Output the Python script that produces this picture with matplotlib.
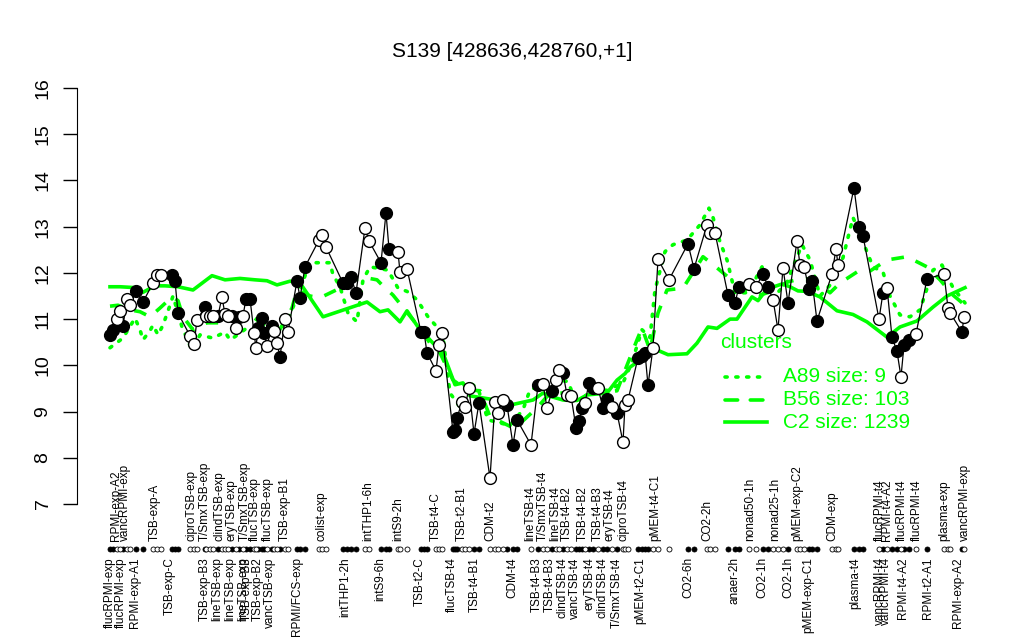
import matplotlib
matplotlib.use("Agg")
import matplotlib.pyplot as plt
import matplotlib.transforms as mtransforms
import numpy as np

plt.rcParams["font.family"] = ["Liberation Sans", "DejaVu Sans"]

# sample positions along the x axis, expression values, filled marker flag
pos = [110, 113, 117, 120, 123, 127, 130, 136, 143, 153, 157, 161, 172, 175, 178,
       190, 194, 197, 205, 206, 210, 213, 218, 222, 225, 228, 232, 236, 239, 243,
       246, 250, 254, 256, 258, 262, 264, 267, 272, 274, 277, 280, 285, 288,
       297, 300, 305, 319, 322, 326, 343, 347, 351, 356, 365, 369, 381, 386, 389,
       398, 400, 407, 421, 424, 427, 436, 439, 442, 453, 455, 457, 462, 465, 469,
       474, 479, 490, 495, 498, 503, 507, 513, 517, 531, 538, 543, 547, 552, 556,
       559, 563, 567, 571, 576, 579, 582, 585, 589, 593, 598, 603, 607, 612, 617,
       623, 625, 628, 638, 642, 645, 648, 653, 658, 669, 688, 694, 707, 710, 715,
       728, 735, 739, 749, 756, 763, 768, 773, 778, 783, 788, 797, 800, 804, 809,
       812, 817, 832, 836, 838, 854, 859, 863, 879, 883, 887, 892, 897, 901, 904,
       909, 916, 927, 944, 948, 950, 962, 964]
vals = [10.66, 10.77, 11.0, 11.18, 10.85, 11.44, 11.3, 11.6, 11.37, 11.78, 11.96, 11.96, 11.96, 11.83, 11.13,
        10.64, 10.46, 10.98, 11.26, 11.07, 11.07, 11.07, 11.07, 11.48, 11.1, 11.07, 11.07, 10.81, 11.05, 11.07,
        11.44, 11.44, 10.7, 10.38, 10.81, 11.02, 10.7, 10.42, 10.85, 10.75, 10.48, 10.18, 11.0, 10.72,
        11.83, 11.46, 12.13, 12.71, 12.82, 12.56, 11.78, 11.78, 11.91, 11.57, 12.97, 12.69, 12.22, 13.3, 12.52,
        12.45, 12.02, 12.09, 10.72, 10.72, 10.27, 9.88, 10.44, 10.7, 8.56, 8.6, 8.87, 9.2, 9.1, 9.51,
        8.52, 9.19, 7.56, 9.2, 8.97, 9.25, 9.14, 8.28, 8.82, 8.28, 9.57, 9.6, 9.08, 9.44, 9.68,
        9.9, 9.83, 9.36, 9.34, 8.65, 8.8, 9.08, 9.19, 9.62, 9.51, 9.51, 9.08, 9.27, 9.1, 8.97,
        8.34, 9.14, 9.25, 10.16, 10.2, 10.27, 9.57, 10.38, 12.3, 11.85, 12.63, 12.09, 13.04, 12.87, 12.87,
        11.52, 11.35, 11.7, 11.76, 11.7, 11.98, 11.7, 11.42, 10.77, 12.11, 11.35, 12.69, 12.17, 12.13, 11.65,
        11.83, 10.96, 11.98, 12.52, 12.17, 13.84, 13.0, 12.8, 11.0, 11.57, 11.68, 10.61, 10.3, 9.75, 10.44,
        10.55, 10.68, 11.87, 11.98, 11.24, 11.14, 10.72, 11.05]
filled = [1, 1, 0, 0, 1, 0, 0, 1, 1, 0, 0, 0, 1, 1, 1,
          0, 0, 0, 1, 0, 0, 0, 1, 0, 0, 0, 1, 0, 1, 0,
          1, 1, 0, 0, 1, 1, 1, 0, 1, 0, 0, 1, 0, 0,
          1, 1, 1, 0, 0, 0, 1, 1, 1, 1, 0, 0, 1, 1, 1,
          0, 0, 0, 1, 1, 1, 0, 0, 0, 1, 1, 1, 0, 0, 0,
          1, 1, 0, 0, 0, 0, 1, 1, 1, 0, 1, 0, 0, 1, 0,
          0, 1, 0, 0, 1, 1, 1, 0, 1, 1, 0, 1, 1, 0, 1,
          0, 0, 0, 1, 1, 1, 1, 0, 0, 0, 1, 1, 0, 0, 0,
          1, 1, 1, 0, 0, 1, 1, 0, 0, 0, 1, 0, 0, 0, 1,
          1, 1, 0, 0, 0, 1, 1, 1, 0, 1, 0, 1, 1, 0, 1,
          1, 0, 1, 0, 0, 0, 1, 0]

# cluster mean profiles
c2_pos = [110, 120, 136, 143, 155, 165, 178, 193, 212, 225, 240, 255, 267, 277, 290, 297,
          302, 323, 367, 380, 388, 400, 407, 418, 433, 443, 455, 463, 470, 490, 510, 533,
          543, 550, 563, 577, 587, 607, 617, 625, 630, 643, 653, 668, 687, 697, 708, 717,
          730, 737, 752, 758, 767, 782, 790, 798, 807, 820, 837, 853, 867, 887, 900, 917,
          933, 947, 965]
c2_vals = [11.7, 11.7, 11.68, 11.58, 11.72, 11.72, 11.7, 11.63, 11.94, 11.85, 11.88, 11.85, 11.83, 11.74, 11.82, 11.8,
           11.72, 11.05, 11.37, 11.16, 11.2, 10.94, 11.18, 10.83, 10.48, 10.27, 9.58, 9.62, 9.34, 9.27, 9.14, 9.25,
           9.4, 9.33, 9.25, 9.24, 9.36, 9.4, 9.68, 9.82, 9.96, 10.16, 10.37, 10.23, 10.25, 10.48, 10.83, 10.8,
           11.0, 11.0, 11.48, 11.4, 11.65, 11.76, 11.7, 11.61, 11.6, 11.48, 11.18, 11.1, 10.94, 10.61, 10.83, 10.96,
           11.26, 11.5, 11.68]

b56_pos = [110, 118, 130, 140, 150, 160, 172, 178, 183, 193, 207, 220, 233, 247, 253, 267,
           280, 292, 297, 310, 320, 340, 353, 367, 377, 382, 393, 405, 418, 430, 440, 453,
           467, 480, 490, 513, 523, 537, 550, 563, 577, 590, 603, 617, 637, 642, 650, 658,
           667, 683, 703, 717, 728, 733, 748, 760, 773, 787, 800, 813, 830, 840, 857, 870,
           887, 907, 927, 940, 953, 965]
b56_vals = [11.28, 11.3, 11.2, 11.16, 11.05, 11.24, 11.48, 11.4, 11.05, 10.77, 10.92, 10.92, 11.0, 11.05, 11.05, 10.81,
            10.78, 11.24, 11.63, 11.5, 11.46, 11.67, 11.85, 11.89, 11.85, 11.74, 11.52, 11.2, 10.85, 10.48, 10.27, 9.68,
            9.47, 9.45, 8.89, 8.65, 8.8, 9.08, 9.4, 9.4, 9.04, 9.51, 9.4, 9.45, 10.55, 10.81, 10.33, 11.13,
            11.63, 11.67, 12.35, 12.11, 11.91, 11.78, 11.59, 11.52, 11.61, 11.8, 11.87, 11.87, 11.57, 11.78, 12.02, 12.04,
            12.28, 12.35, 12.13, 11.85, 11.52, 11.3]

a89_pos = [110, 123, 135, 140, 143, 150, 153, 158, 163, 170, 173, 182, 192, 200, 207, 213,
           225, 230, 237, 247, 260, 270, 280, 290, 297, 310, 330, 333, 340, 348, 357, 363,
           370, 378, 388, 398, 407, 417, 428, 437, 443, 450, 460, 470, 478, 488, 510, 523,
           530, 547, 553, 568, 580, 590, 607, 623, 632, 642, 650, 655, 665, 673, 687, 700,
           709, 713, 720, 727, 735, 748, 762, 773, 787, 802, 810, 820, 832, 843, 853, 863,
           873, 883, 890, 900, 910, 920, 933, 942, 953, 965]
a89_vals = [10.38, 10.59, 11.02, 10.77, 10.55, 10.75, 10.87, 10.66, 10.87, 11.3, 11.5, 10.83, 10.33, 10.66, 10.62, 10.59,
            10.72, 10.55, 10.65, 10.81, 10.7, 10.77, 10.77, 11.09, 11.48, 12.22, 12.22, 11.96, 11.7, 11.13, 10.94, 11.85,
            12.13, 12.1, 12.06, 11.67, 11.6, 11.42, 11.05, 10.83, 10.6, 9.4, 9.1, 9.62, 9.5, 8.82, 8.7, 9.04,
            9.47, 9.62, 9.7, 9.65, 8.97, 9.62, 9.45, 9.62, 10.07, 10.77, 10.6, 11.63, 12.46, 12.61, 12.71, 13.04,
            13.4, 13.2, 12.67, 12.28, 11.57, 11.57, 12.13, 11.46, 11.8, 12.61, 12.28, 11.5, 11.78, 12.33, 13.2, 12.67,
            12.13, 12.02, 11.5, 11.09, 11.05, 11.2, 12.06, 12.17, 11.68, 11.35]

top_labels = ["RPMI-exp-A2", "vancRPMI-exp", "TSB-exp-A", "ciproTSB-exp", "T/SmxTSB-exp",
              "clindTSB-exp", "eryTSB-exp", "T/SmxTSB-exp", "flucTSB-exp", "flucTSB-exp",
              "TSB-exp-B1", "colist-exp", "intTHP1-6h", "intS9-2h", "TSB-t4-C", "TSB-t2-B1",
              "CDM-t2", "lineTSB-t4", "T/SmxTSB-t4", "lineTSB-t4", "TSB-t4-B2", "TSB-t4-B2",
              "TSB-t4-B3", "eryTSB-t4", "ciproTSB-t4", "pMEM-t4-C1", "CO2-2h", "nonad50-1h",
              "nonad25-1h", "pMEM-exp-C2", "CDM-exp", "flucRPMI-t4", "RPMI-t4-A2",
              "flucRPMI-t4", "flucRPMI-t4", "plasma-exp", "vancRPMI-exp"]
top_pos = [116, 125, 155, 192, 205, 219, 231, 245, 255, 268, 285, 321, 368, 398, 436, 462,
           490, 530, 543, 555, 567, 583, 598, 610, 623, 655, 707, 750, 775, 797, 832, 880,
           887, 902, 917, 944, 965]

bottom_labels = ["flucRPMI-exp", "flucRPMI-exp", "RPMI-exp-A1", "TSB-exp-C", "TSB-exp-B3",
                 "lineTSB-exp", "lineTSB-exp", "lineTSB-exp", "TSB-exp-B3", "TSB-exp-B2",
                 "vancTSB-exp", "RPMI/FCS-exp", "intTHP1-2h", "intS9-6h", "TSB-t2-C",
                 "flucTSB-t4", "TSB-t4-B1", "CDM-t4", "TSB-t4-B3", "TSB-t4-B3", "clindTSB-t4",
                 "vancTSB-t4", "eryTSB-t4", "clindTSB-t4", "T/SmxTSB-t4", "pMEM-t2-C1",
                 "CO2-6h", "anaer-2h", "CO2-1h", "CO2-1h", "pMEM-exp-C1", "plasma-t4",
                 "vancRPMI-t4", "vancRPMI-t4", "RPMI-t4-A2", "RPMI-t2-A1", "RPMI-exp-A2"]
bottom_pos = [110, 121, 135, 170, 205, 217, 230, 243, 247, 258, 270, 297, 345, 380, 420,
              452, 475, 512, 537, 550, 562, 575, 590, 603, 617, 640, 688, 735, 762, 788,
              808, 855, 880, 886, 903, 928, 958]

legend_labels = ["A89 size: 9", "B56 size: 103", "C2 size: 1239"]
legend_styles = [(0, (0.6, 2.4)), (0, (3.5, 3.5)), "-"]
yticks = list(range(7, 17))

green = "#00ff00"

fig = plt.figure(figsize=(10.24, 6.4), dpi=100)
ax = fig.add_axes([77 / 1024, 136 / 640, 918 / 1024, 416 / 640])
ax.set_xlim(77, 995)
ax.set_ylim(7, 16)

ax.plot(a89_pos, a89_vals, color=green, lw=2.6, linestyle=legend_styles[0],
        dash_capstyle="round")
ax.plot(b56_pos, b56_vals, color=green, lw=2.6, linestyle=legend_styles[1])
ax.plot(c2_pos, c2_vals, color=green, lw=2.6, linestyle=legend_styles[2])

pos_a = np.array(pos)
vals_a = np.array(vals)
fill_a = np.array(filled, dtype=bool)
ax.plot(pos_a, vals_a, color="black", lw=0.9, zorder=3)
ax.plot(pos_a[fill_a], vals_a[fill_a], "o", ms=8.5, mfc="black", mec="black", mew=1, zorder=4)
ax.plot(pos_a[~fill_a], vals_a[~fill_a], "o", ms=8.5, mfc="white", mec="black", mew=1, zorder=4)

# sample strip under the plot
trans = mtransforms.blended_transform_factory(ax.transData, ax.transAxes)
ax.plot(pos_a[fill_a], np.full(fill_a.sum(), -0.108), "o", ms=3.6, mfc="black",
        mec="black", mew=0.6, transform=trans, clip_on=False)
ax.plot(pos_a[~fill_a], np.full((~fill_a).sum(), -0.108), "o", ms=3.6, mfc="white",
        mec="black", mew=0.6, transform=trans, clip_on=False)

for lab, x in zip(top_labels, top_pos):
    ax.text(x, -0.088, lab, rotation=90, ha="center", va="bottom", fontsize=8.5,
            transform=trans, clip_on=False)
for lab, x in zip(bottom_labels, bottom_pos):
    ax.text(x, -0.128, lab, rotation=90, ha="center", va="top", fontsize=8.5,
            transform=trans, clip_on=False)

# legend drawn by hand, R style
ax.text(720, 10.5, "clusters", color=green, fontsize=15, ha="left", va="center")
for i, (lab, ls) in enumerate(zip(legend_labels, legend_styles)):
    yy = 9.75 - i * 0.49
    ax.plot([725, 767], [yy, yy], color=green, lw=2.6, linestyle=ls, dash_capstyle="round")
    ax.text(783, yy, lab, color=green, fontsize=15, ha="left", va="center")

for s in ["top", "right", "bottom"]:
    ax.spines[s].set_visible(False)
ax.spines["left"].set_bounds(7, 16)
ax.set_xticks([])
ax.set_yticks(yticks)
ax.set_yticklabels([])
ax.tick_params(axis="y", length=10, width=1)
ytrans = mtransforms.blended_transform_factory(ax.transAxes, ax.transData)
for v in yticks:
    ax.text(-0.037, v, str(v), rotation=90, ha="center", va="center", fontsize=14,
            transform=ytrans, clip_on=False)

fig.suptitle("S139 [428636,428760,+1]", y=0.935, fontsize=15)

fig.savefig("out.png", dpi=100)
